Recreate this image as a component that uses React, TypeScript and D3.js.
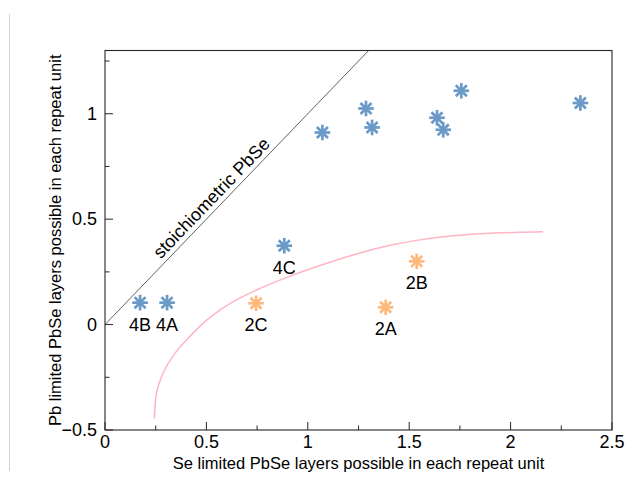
import React from "react";
import * as d3 from "d3";

// Data
const blueX = [0.173, 0.306, 0.884, 1.072, 1.287, 1.317, 1.637, 1.668, 1.757, 2.344];
const blueY = [0.104, 0.104, 0.374, 0.911, 1.025, 0.935, 0.981, 0.924, 1.109, 1.051];
const blueLabels = ["4B", "4A", "4C", "", "", "", "", "", "", ""];

const orangeX = [0.745, 1.384, 1.537];
const orangeY = [0.101, 0.082, 0.3];
const orangeLabels = ["2C", "2A", "2B"];

const curveX = [0.243, 0.25, 0.27, 0.3, 0.35, 0.4, 0.5, 0.6, 0.75, 0.9, 1.06, 1.24, 1.4, 1.56, 1.73, 1.9, 2.06, 2.16];
const curveY = [-0.445, -0.35, -0.27, -0.205, -0.13, -0.075, 0.02, 0.09, 0.165, 0.225, 0.28, 0.335, 0.375, 0.403, 0.422, 0.433, 0.438, 0.44];

const stoichX = [0, 1.3];
const stoichY = [0, 1.3];

const xMajorTicks = [0, 0.5, 1, 1.5, 2, 2.5];
const xTickLabels = ["0", "0.5", "1", "1.5", "2", "2.5"];
const xMinorTicks = [0.25, 0.75, 1.25, 1.75, 2.25];
const yMajorTicks = [-0.5, 0, 0.5, 1];
const yTickLabels = ["\u22120.5", "0", "0.5", "1"];
const yMinorTicks = [-0.25, 0.25, 0.75, 1.25];

const xTitle = "Se limited PbSe layers possible in each repeat unit";
const yTitle = "Pb limited PbSe layers possible in each repeat unit";
const lineLabel = "stoichiometric PbSe";

const W = 635;
const H = 481;
const L = 105;
const R = 612;
const T = 50.5;
const B = 430;

const FONT = "'Liberation Sans', Arial, Helvetica, sans-serif";
const BLUE = "#6b9ac8";
const ORANGE = "#fdb97c";
const PINK = "#ffb5c3";
const FS = 18;
const FT = 16.5;

function Asterisk({ cx, cy, color }: { cx: number; cy: number; color: string }) {
  const r = 7.8;
  const angles = [0, 45, 90, 135];
  return (
    <g>
      {angles.map((a) => {
        const rad = (a * Math.PI) / 180;
        const dx = Math.cos(rad) * r;
        const dy = Math.sin(rad) * r;
        return (
          <line
            key={a}
            x1={cx - dx}
            y1={cy - dy}
            x2={cx + dx}
            y2={cy + dy}
            stroke={color}
            strokeWidth={2.7}
          />
        );
      })}
    </g>
  );
}

export default function App() {
  const x = d3.scaleLinear().domain([0, 2.5]).range([L, R]);
  const y = d3.scaleLinear().domain([-0.5, 1.3]).range([B, T]);

  const curvePts: [number, number][] = curveX.map((v, i) => [v, curveY[i]]);
  const curvePath = d3
    .line<[number, number]>()
    .x((d) => x(d[0]))
    .y((d) => y(d[1]))
    .curve(d3.curveMonotoneX)(curvePts) as string;

  const stoichPath = d3
    .line<number>()
    .x((d) => x(stoichX[d]))
    .y((d) => y(stoichY[d]))([0, 1]) as string;

  const lx = x(0.564);
  const ly = y(0.564);
  const angle = (Math.atan2(y(0) - y(1), x(1) - x(0)) * 180) / Math.PI;

  const maj = 8;
  const mnr = 4.5;

  return (
    <svg
      width={W}
      height={H}
      style={{ position: "absolute", left: 0, top: 0, background: "#fff" }}
      fontFamily={FONT}
    >
      <rect x={0} y={0} width={W} height={H} fill="#fff" />
      <line x1={9.5} y1={14} x2={9.5} y2={471} stroke="#d4d4d4" strokeWidth={1} />
      <defs>
        <clipPath id="plotclip">
          <rect x={L} y={T} width={R - L} height={B - T} />
        </clipPath>
      </defs>

      <g clipPath="url(#plotclip)">
        <path d={stoichPath} stroke="#3a3a3a" strokeWidth={0.8} fill="none" />
        <path d={curvePath} stroke={PINK} strokeWidth={1.5} fill="none" />
      </g>

      {/* axes box */}
      <rect x={L} y={T} width={R - L} height={B - T} fill="none" stroke="#262626" strokeWidth={1.1} />

      {/* x ticks */}
      {xMajorTicks.map((t) => (
        <line key={"xm" + t} x1={x(t)} x2={x(t)} y1={B} y2={B - maj} stroke="#262626" strokeWidth={1} />
      ))}
      {xMinorTicks.map((t) => (
        <line key={"xn" + t} x1={x(t)} x2={x(t)} y1={B} y2={B - mnr} stroke="#262626" strokeWidth={1} />
      ))}
      {xMajorTicks.map((t, i) => (
        <text key={"xl" + t} x={x(t)} y={448} textAnchor="middle" fontSize={FS} fill="#000">
          {xTickLabels[i]}
        </text>
      ))}

      {/* y ticks */}
      {yMajorTicks.map((t) => (
        <line key={"ym" + t} x1={L} x2={L + maj} y1={y(t)} y2={y(t)} stroke="#262626" strokeWidth={1} />
      ))}
      {yMinorTicks.map((t) => (
        <line key={"yn" + t} x1={L} x2={L + mnr} y1={y(t)} y2={y(t)} stroke="#262626" strokeWidth={1} />
      ))}
      {yMajorTicks.map((t, i) => (
        <text key={"yl" + t} x={97} y={y(t)} dy="0.35em" textAnchor="end" fontSize={FS} fill="#000">
          {yTickLabels[i]}
        </text>
      ))}

      {/* titles */}
      <text x={(L + R) / 2} y={469} textAnchor="middle" fontSize={FT} fill="#000">
        {xTitle}
      </text>
      <text
        transform={`translate(61, ${(T + B) / 2}) rotate(-90)`}
        textAnchor="middle"
        fontSize={FT}
        fill="#000"
      >
        {yTitle}
      </text>

      {/* line label */}
      <text
        transform={`translate(${lx}, ${ly}) rotate(${-angle})`}
        y={-5}
        textAnchor="middle"
        fontSize={FS}
        fill="#000"
      >
        {lineLabel}
      </text>

      {/* markers */}
      {blueX.map((v, i) => (
        <Asterisk key={"b" + i} cx={x(v)} cy={y(blueY[i])} color={BLUE} />
      ))}
      {orangeX.map((v, i) => (
        <Asterisk key={"o" + i} cx={x(v)} cy={y(orangeY[i])} color={ORANGE} />
      ))}

      {/* point labels */}
      {blueX.map((v, i) =>
        blueLabels[i] ? (
          <text key={"bl" + i} x={x(v)} y={y(blueY[i]) + 28} textAnchor="middle" fontSize={FS} fill="#000">
            {blueLabels[i]}
          </text>
        ) : null
      )}
      {orangeX.map((v, i) => (
        <text key={"ol" + i} x={x(v)} y={y(orangeY[i]) + 28} textAnchor="middle" fontSize={FS} fill="#000">
          {orangeLabels[i]}
        </text>
      ))}
    </svg>
  );
}
